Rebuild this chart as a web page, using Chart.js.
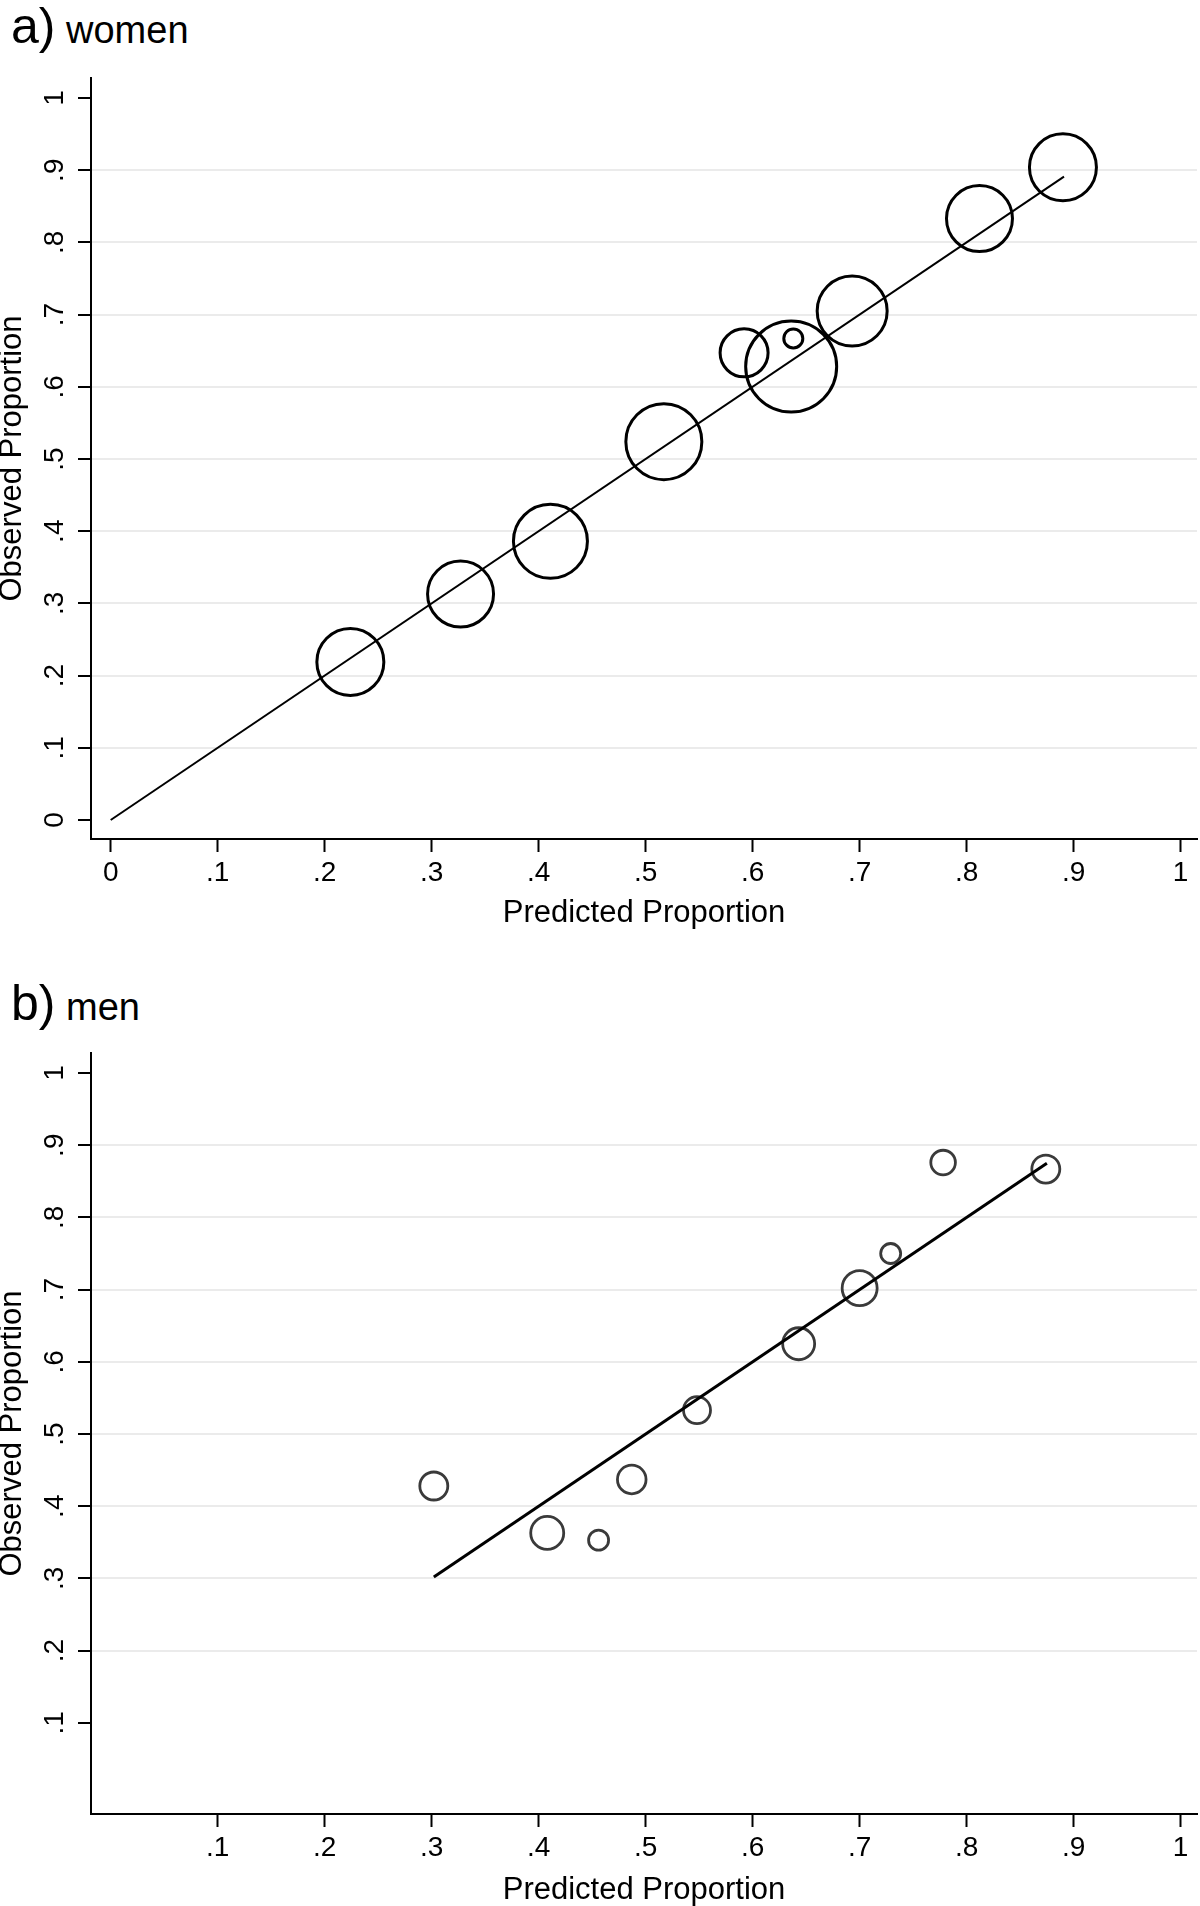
<!DOCTYPE html>
<html>
<head>
<meta charset="utf-8">
<script src="https://cdn.jsdelivr.net/npm/chart.js@4.4.1/dist/chart.umd.min.js"></script>
<style>
  html, body { margin: 0; padding: 0; background: #fff; }
  body { position: relative; width: 1200px; height: 1906px; overflow: hidden; }
  canvas { position: absolute; left: 0; }
  .panel-title {
    position: absolute; left: 11px;
    font-family: "Liberation Sans", Arial, sans-serif;
    font-size: 50px; line-height: 1; color: #000; white-space: nowrap;
  }
  .panel-title span { font-size: 38px; }
</style>
</head>
<body>
<div class="panel-title" style="top:1px">a)<span> women</span></div>
<canvas id="women" width="1200" height="950" style="top:0"></canvas>
<div class="panel-title" style="top:978px">b)<span> men</span></div>
<canvas id="men" width="1200" height="956" style="top:950px"></canvas>
<script>
// a) women: predicted vs observed proportion, bubble size = group weight
const womenPred = [0.224, 0.327, 0.411, 0.517, 0.592, 0.636, 0.638, 0.693, 0.812, 0.890];
const womenObs  = [0.219, 0.313, 0.386, 0.524, 0.647, 0.628, 0.667, 0.705, 0.833, 0.904];
const womenSize = [33.5, 33, 37, 38, 24, 45.5, 9.5, 35, 33, 33.5];
const womenLine = [0, 0.891];

// b) men
const menPred = [0.302, 0.408, 0.456, 0.487, 0.548, 0.643, 0.700, 0.729, 0.778, 0.874];
const menObs  = [0.428, 0.363, 0.353, 0.437, 0.533, 0.625, 0.702, 0.750, 0.876, 0.867];
const menSize = [14, 16.5, 10, 14.3, 13.5, 16, 17.5, 10, 12.3, 14];
const menLine = [0.302, 0.875];

const womenTicks = [0, 0.1, 0.2, 0.3, 0.4, 0.5, 0.6, 0.7, 0.8, 0.9, 1];
const womenGrid  = [0.1, 0.2, 0.3, 0.4, 0.5, 0.6, 0.7, 0.8, 0.9];
const menTicks   = [0.1, 0.2, 0.3, 0.4, 0.5, 0.6, 0.7, 0.8, 0.9, 1];
const menGrid    = [0.2, 0.3, 0.4, 0.5, 0.6, 0.7, 0.8, 0.9];

const FONT = "'Liberation Sans', Arial, sans-serif";

function fmt(v) {
  if (v === 0) return "0";
  if (v === 1) return "1";
  return v.toFixed(1).replace(/^0/, "");
}

function setTicks(values) {
  return (scale) => { scale.ticks = values.map((v) => ({ value: v })); };
}

function drawPanel(canvas, p) {
  const bubbles = p.pred.map((x, i) => ({ x, y: p.obs[i], r: p.size[i] }));
  const line = p.line.map((v) => ({ x: v, y: v }));

  return new Chart(canvas, {
    type: "bubble",
    data: {
      datasets: [
        {
          type: "line",
          data: line,
          borderColor: "#000",
          borderWidth: p.lineWidth,
          pointRadius: 0,
          fill: false,
          clip: false,
        },
        {
          data: bubbles,
          backgroundColor: "rgba(0,0,0,0)",
          borderColor: p.circleColor,
          borderWidth: p.circleWidth,
          clip: false,
        },
      ],
    },
    options: {
      responsive: false,
      animation: false,
      events: [],
      layout: { autoPadding: false, padding: { top: p.top, right: 3, left: 0, bottom: 0 } },
      plugins: { legend: { display: false }, tooltip: { enabled: false } },
      scales: {
        x: {
          type: "linear",
          bounds: "data",
          min: -0.0184,
          max: 1.0153,
          afterBuildTicks: setTicks(p.ticks),
          afterFit: (s) => { s.height = p.xHeight; },
          grid: { drawOnChartArea: false, tickColor: "#000", tickWidth: 2, tickLength: 13 },
          border: { color: "#000", width: 2 },
          ticks: {
            autoSkip: false, maxRotation: 0, padding: 4, color: "#000",
            font: { family: FONT, size: 28 },
            callback: (v) => fmt(v),
          },
          title: {
            display: true, text: "Predicted Proportion", color: "#000",
            font: { family: FONT, size: 31, lineHeight: 1 },
            padding: { top: 0, bottom: p.xTitlePad },
          },
        },
        y: {
          type: "linear",
          bounds: "data",
          min: -0.0263,
          max: 1.0277,
          afterBuildTicks: setTicks(p.ticks),
          afterFit: (s) => { s.width = 91; },
          grid: {
            color: (c) => (c.tick && p.grid.includes(c.tick.value) ? "#ebebeb" : "rgba(0,0,0,0)"),
            lineWidth: 2,
            tickColor: "#000",
            tickWidth: 2,
            tickLength: 13,
          },
          border: { color: "#000", width: 2 },
          ticks: {
            autoSkip: false, minRotation: 90, maxRotation: 90, crossAlign: "center",
            padding: 11, color: "#000",
            font: { family: FONT, size: 28 },
            callback: (v) => fmt(v),
          },
          title: {
            display: true, text: "Observed Proportion", color: "#000",
            font: { family: FONT, size: 31, lineHeight: 0.8 },
            padding: 0,
          },
        },
      },
    },
  });
}

drawPanel(document.getElementById("women"), {
  pred: womenPred, obs: womenObs, size: womenSize, line: womenLine,
  ticks: womenTicks, grid: womenGrid,
  top: 78, xHeight: 111, xTitlePad: 21,
  circleColor: "#000", circleWidth: 3, lineWidth: 2,
});

drawPanel(document.getElementById("men"), {
  pred: menPred, obs: menObs, size: menSize, line: menLine,
  ticks: menTicks, grid: menGrid,
  top: 103, xHeight: 92, xTitlePad: 0,
  circleColor: "#3a3a3a", circleWidth: 2.8, lineWidth: 3,
});
</script>
</body>
</html>
